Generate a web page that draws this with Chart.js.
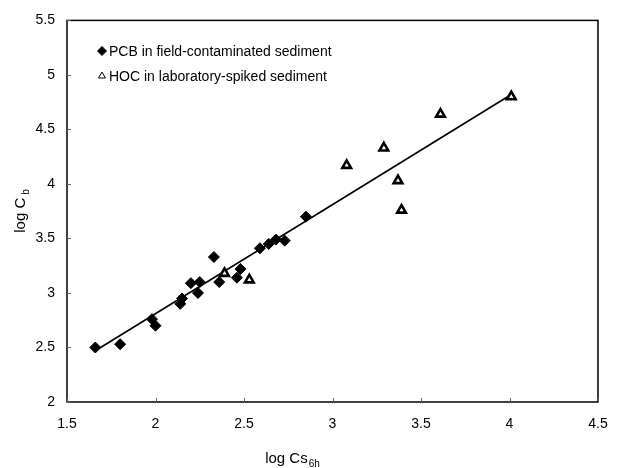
<!DOCTYPE html>
<html>
<head>
<meta charset="utf-8">
<script src="https://cdn.jsdelivr.net/npm/chart.js@4/dist/chart.umd.min.js"></script>
<style>
  body { margin: 0; background: #fff; }
  #grafico { display: block; }
</style>
</head>
<body>
<canvas id="grafico" width="622" height="468"></canvas>
<script>
// datos
var pcbX = [1.66, 1.80, 1.98, 2.00, 2.14, 2.15, 2.20, 2.24, 2.25, 2.33, 2.36, 2.46, 2.48, 2.59, 2.64, 2.68, 2.73, 2.85];
var pcbY = [2.50, 2.53, 2.76, 2.70, 2.90, 2.95, 3.09, 3.00, 3.10, 3.33, 3.10, 3.14, 3.22, 3.41, 3.45, 3.49, 3.48, 3.70];
var hocX = [2.39, 2.53, 3.08, 3.29, 3.37, 3.39, 3.61, 4.01];
var hocY = [3.18, 3.12, 4.17, 4.33, 4.03, 3.76, 4.64, 4.80];
var lineaX = [1.66, 4.01];
var lineaY = [2.47, 4.82];
var ticksX = [1.5, 2, 2.5, 3, 3.5, 4, 4.5];
var ticksY = [2, 2.5, 3, 3.5, 4, 4.5, 5, 5.5];
var nombres = ['PCB in field-contaminated sediment', 'HOC in laboratory-spiked sediment'];

function puntos(xs, ys) {
    var res = [];
    for (let i = 0; i < xs.length; i++) {
        res.push({ x: xs[i], y: ys[i] });
    }
    return res;
}

var fuente = '"Liberation Sans", Arial, sans-serif';

var marco = {
    id: 'marco',
    afterDraw: function (chart) {
        var ctx = chart.ctx;
        var a = chart.chartArea;
        var sx = chart.scales.x;
        var sy = chart.scales.y;
        ctx.save();
        ctx.strokeStyle = '#000';
        ctx.lineWidth = 1.5;
        ctx.strokeRect(a.left, a.top, a.right - a.left, a.bottom - a.top);
        ctx.lineWidth = 1;
        ctx.strokeStyle = '#666';
        ticksX.forEach(function (v) {
            var px = Math.round(sx.getPixelForValue(v)) + 0.5;
            ctx.beginPath();
            ctx.moveTo(px, a.bottom);
            ctx.lineTo(px, a.bottom - 4);
            ctx.stroke();
        });
        ticksY.forEach(function (v) {
            var py = Math.round(sy.getPixelForValue(v)) + 0.5;
            ctx.beginPath();
            ctx.moveTo(a.left, py);
            ctx.lineTo(a.left + 4, py);
            ctx.stroke();
        });

        // leyenda
        ctx.font = '14px ' + fuente;
        ctx.textBaseline = 'middle';
        ctx.textAlign = 'left';
        var ds = chart.data.datasets;
        var filas = [51, 76];
        for (let i = 0; i < 2; i++) {
            ctx.fillStyle = i == 0 ? '#000' : '#fff';
            ctx.strokeStyle = '#000';
            Chart.helpers.drawPoint(ctx, {
                pointStyle: ds[i].pointStyle,
                radius: i == 0 ? 4.5 : 4,
                borderWidth: i == 0 ? 1 : 1.6,
                rotation: 0
            }, 102, filas[i]);
            ctx.fillStyle = '#000';
            ctx.fillText(nombres[i], 109, filas[i] + 1);
        }

        // titulos de ejes con subindice
        ctx.fillStyle = '#000';
        ctx.textBaseline = 'alphabetic';
        ctx.font = '15px ' + fuente;
        var t1 = 'log Cs';
        var w1 = ctx.measureText(t1).width;
        ctx.font = '10px ' + fuente;
        var w2 = ctx.measureText('6h').width;
        var x0 = 292 - (w1 + w2) / 2;
        ctx.font = '15px ' + fuente;
        ctx.fillText(t1, x0, 463);
        ctx.font = '10px ' + fuente;
        ctx.fillText('6h', x0 + w1 + 1, 467);

        ctx.translate(25, 211);
        ctx.rotate(-Math.PI / 2);
        ctx.font = '15px ' + fuente;
        var t3 = 'log C';
        var w3 = ctx.measureText(t3).width;
        ctx.font = '10px ' + fuente;
        var w4 = ctx.measureText('b').width;
        var y0 = -(w3 + w4 + 3) / 2;
        ctx.font = '15px ' + fuente;
        ctx.fillText(t3, y0, 0);
        ctx.font = '10px ' + fuente;
        ctx.fillText('b', y0 + w3 + 3, 4);
        ctx.restore();
    }
};

var ctx = document.getElementById('grafico').getContext('2d');
var grafico = new Chart(ctx, {
    type: 'scatter',
    data: {
        datasets: [{
            label: nombres[0],
            data: puntos(pcbX, pcbY),
            pointStyle: 'rectRot',
            pointRadius: 5.5,
            backgroundColor: '#000',
            borderColor: '#000',
            borderWidth: 1
        }, {
            label: nombres[1],
            data: puntos(hocX, hocY),
            pointStyle: 'triangle',
            pointRadius: 5,
            backgroundColor: '#fff',
            borderColor: '#000',
            borderWidth: 2.6
        }, {
            type: 'line',
            label: 'ajuste',
            data: puntos(lineaX, lineaY),
            borderColor: '#000',
            borderWidth: 1.6,
            pointRadius: 0,
            fill: false,
            order: 5
        }]
    },
    options: {
        responsive: false,
        animation: false,
        layout: { padding: { top: 20, right: 24, left: 0, bottom: 0 } },
        plugins: {
            legend: { display: false },
            tooltip: { enabled: false }
        },
        scales: {
            x: {
                type: 'linear',
                min: 1.5,
                max: 4.5,
                afterFit: function (s) { s.height = 66; },
                afterBuildTicks: function (s) { s.ticks = ticksX.map(function (v) { return { value: v }; }); },
                grid: { display: false, drawTicks: false },
                border: { display: false },
                ticks: {
                    padding: 14,
                    color: '#000',
                    font: { family: fuente, size: 14 },
                    callback: function (v) { return String(v); }
                }
            },
            y: {
                type: 'linear',
                min: 2,
                max: 5.5,
                afterFit: function (s) { s.width = 67; },
                afterBuildTicks: function (s) { s.ticks = ticksY.map(function (v) { return { value: v }; }); },
                grid: { display: false, drawTicks: false },
                border: { display: false },
                ticks: {
                    padding: 12,
                    color: '#000',
                    font: { family: fuente, size: 14 },
                    callback: function (v) { return String(v); }
                }
            }
        }
    },
    plugins: [marco]
});
</script>
</body>
</html>
